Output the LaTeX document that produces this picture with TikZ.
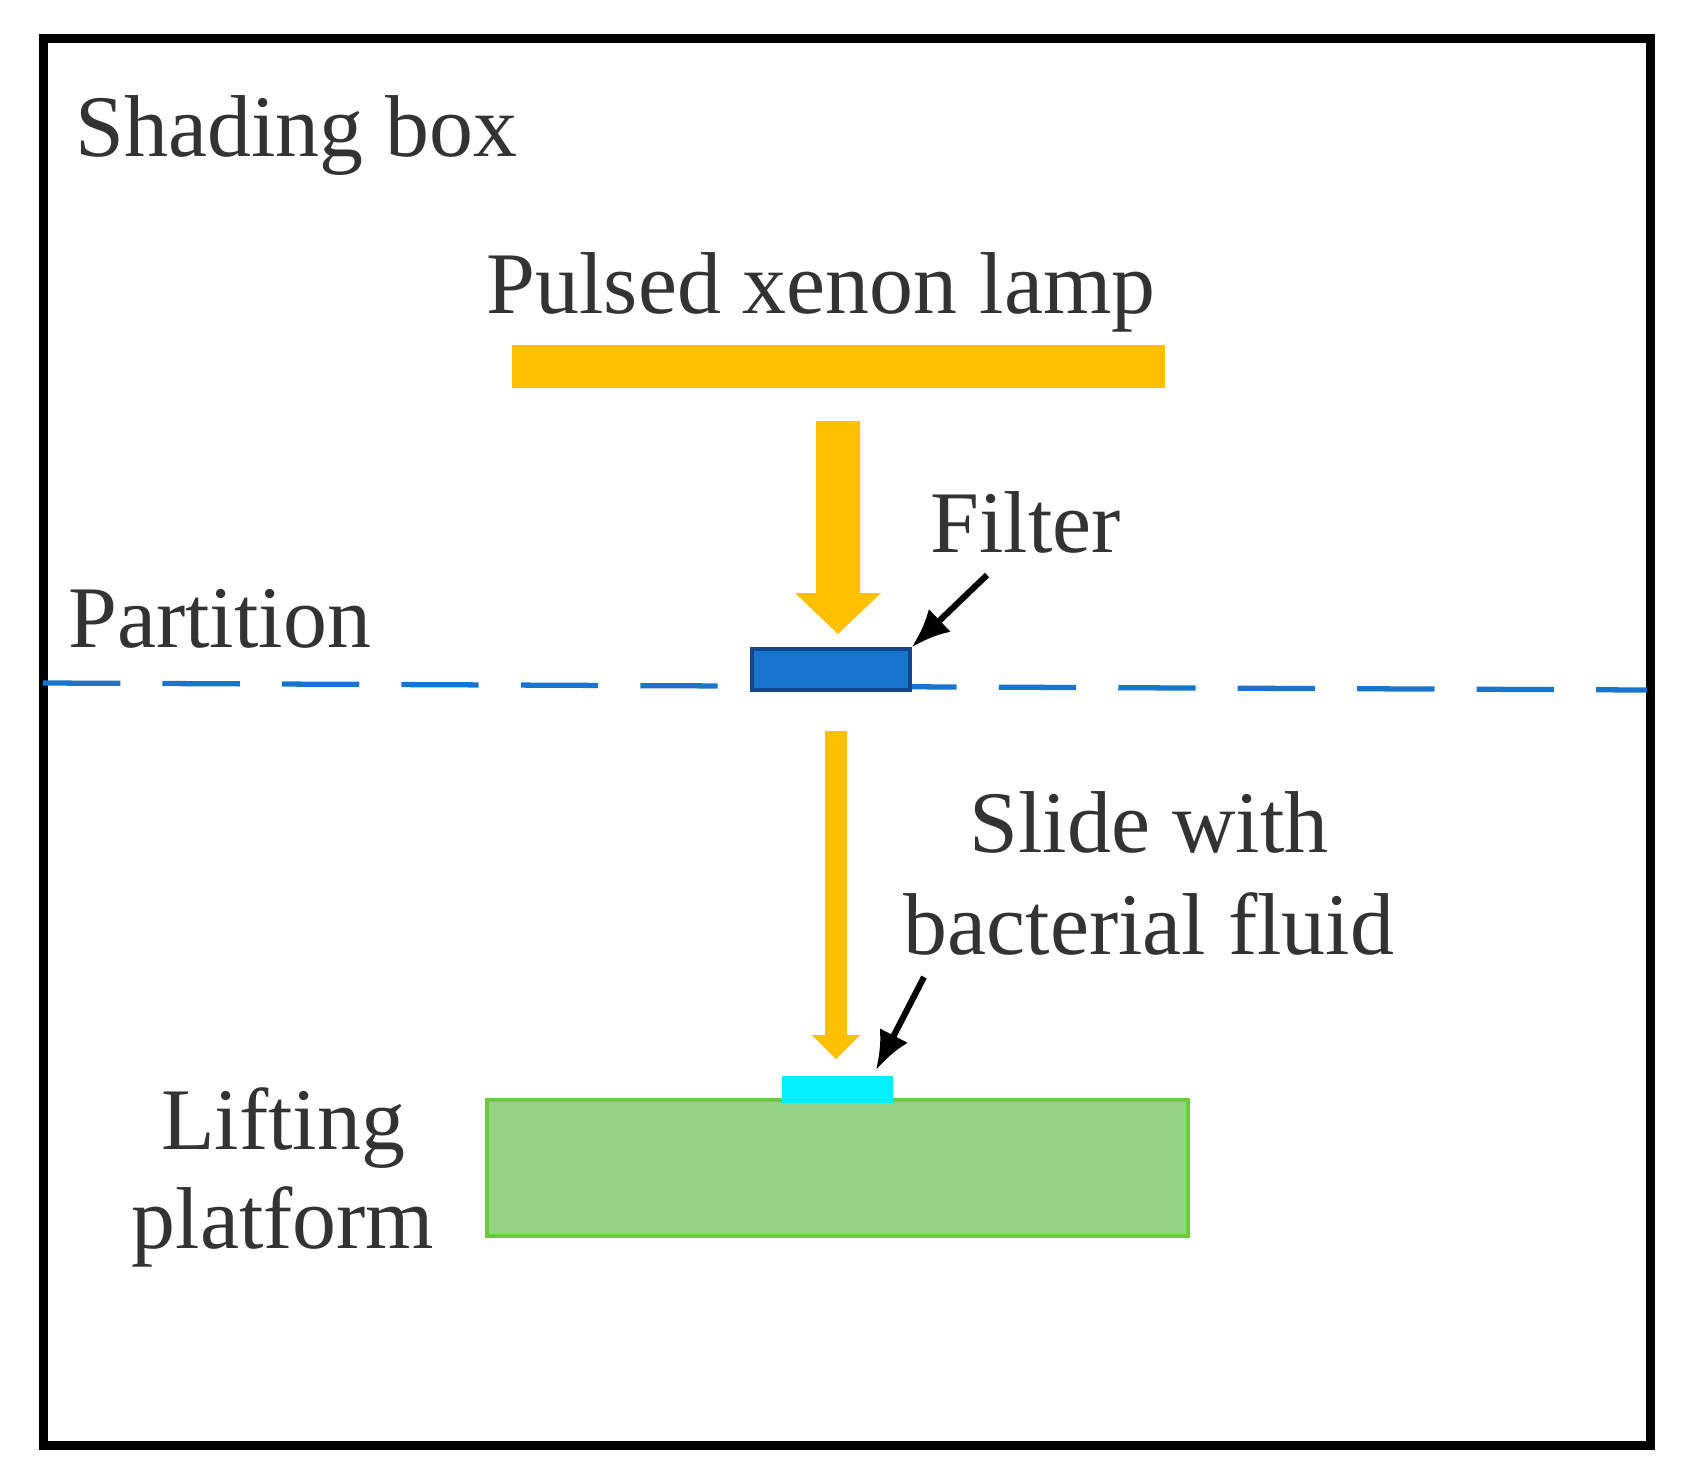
\documentclass[tikz,border=0pt]{standalone}
\usepackage{fontspec}
\setmainfont{Liberation Serif}
\begin{document}
\begin{tikzpicture}[x=0.02cm,y=-0.02cm,
  lbl/.style={font=\fontsize{50}{66}\selectfont, text=black!80, inner sep=0pt},
  pt/.style={-{Latex[length=22,width=18]}, line width=3.5pt, black}]
\useasboundingbox (0,0) rectangle (1691,1481);
\usetikzlibrary{arrows.meta}
\definecolor{lamp}{HTML}{FFC000}
\draw[line width=9*0.02cm] (43,38) rectangle (1650,1445);
\node[lbl,anchor=base west] (sb) at (75,156) {Shading box};
\node[lbl,anchor=base] (pl) at (821,313) {Pulsed xenon lamp};
\fill[lamp] (512,345) rectangle (1165,388);
\fill[lamp] (816,421) -- (860,421) -- (860,593) -- (881,593) -- (838,634) -- (795,593) -- (816,593) -- cycle;
\node[lbl,anchor=base west] (fi) at (930,552) {Filter};
\node[lbl,anchor=base west] (pa) at (68,647) {Partition};
\draw[color={rgb,255:red,24;green,116;blue,205}, line width=3pt, dash pattern=on 44 off 24] (43,683) -- (1647,690);
\node[draw={rgb,255:red,20;green,70;blue,140}, fill={rgb,255:red,24;green,116;blue,205}, line width=2pt, minimum width=158*0.02cm, minimum height=41*0.02cm, inner sep=0pt] (filt) at (831,669.5) {};
\coordinate (fa) at (987,575);
\draw[pt] (fa) -- (filt.north east);
\fill[lamp] (825,731) -- (847,731) -- (847,1035) -- (860,1035) -- (836,1059) -- (812,1035) -- (825,1035) -- cycle;
\node[lbl,anchor=base] (sw) at (1149,852) {Slide with};
\node[lbl,anchor=base] (bf) at (1149,954) {bacterial fluid};
\node[draw={rgb,255:red,108;green,203;blue,60}, fill={rgb,255:red,149;green,211;blue,135}, line width=2pt, minimum width=701*0.02cm, minimum height=136*0.02cm, inner sep=0pt] (plat) at (837.5,1168) {};
\node[fill={rgb,255:red,0;green,240;blue,255}, minimum width=111*0.02cm, minimum height=27*0.02cm, inner sep=0pt] (slide) at (837.5,1089.5) {};
\coordinate (sa) at (924,977);
\draw[pt] (sa) -- (876,1070);
\node[lbl,anchor=base] (li) at (283,1149) {Lifting};
\node[lbl,anchor=base] (pf) at (283,1248) {platform};
\end{tikzpicture}
\end{document}
